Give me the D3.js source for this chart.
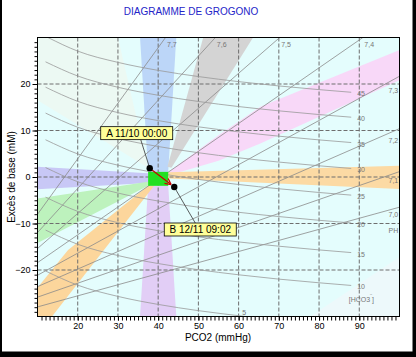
<!DOCTYPE html>
<html><head><meta charset="utf-8">
<script src="https://cdn.jsdelivr.net/npm/d3@7"></script>
<style>body{margin:0;background:#fff} svg{display:block} text{font-family:"Liberation Sans",Arial,sans-serif}</style>
</head><body><svg id="c" width="416" height="357"></svg>
<script>
const title = "DIAGRAMME DE GROGONO";
const xLabel = "PCO2 (mmHg)";
const yLabel = "Excès de base (mM)";
const xTicks = [20,30,40,50,60,70,80,90];
const yTicks = [-20,-10,0,10,20];

// iso-pH lines (straight): endpoints [pco2, be]
const phLabels = ["7,7","7,6","7,5","7,4","7,3","7,2","7,1","7,0"];
const phLines = [
  [[10,-8.02],[41.83,30]],
  [[10,-11.95],[54.22,30]],
  [[10,-15.38],[70.22,30]],
  [[10,-18.42],[90.89,30]],
  [[10,-21.13],[100,21.67]],
  [[10,-23.58],[100,10.41]],
  [[10,-25.84],[100,1.16]],
  [[10,-27.94],[100,-6.49]]
];
// iso-bicarbonate curves [pco2, be]
const hco3Labels = ["5","10","15","20","25","30","35","40","45"];
const hco3Lines = [
  [[12,-20.21],[20,-23.26],[30,-25.68],[40,-27.40],[50,-28.74],[61.75,-30]],
  [[12,-11.41],[20,-14.47],[30,-16.89],[40,-18.61],[50,-19.94],[60,-21.03],[70,-21.96],[80,-22.75],[88,-23.32]],
  [[12,-4.34],[20,-7.39],[30,-9.82],[40,-11.54],[50,-12.87],[60,-13.96],[70,-14.88],[80,-15.68],[88,-16.25]],
  [[12,2.03],[20,-1.02],[30,-3.45],[40,-5.17],[50,-6.50],[60,-7.59],[70,-8.51],[80,-9.31],[88,-9.88]],
  [[12,8.01],[20,4.96],[30,2.54],[40,0.82],[50,-0.52],[60,-1.61],[70,-2.53],[80,-3.33],[88,-3.90]],
  [[12,13.75],[20,10.70],[30,8.28],[40,6.56],[50,5.22],[60,4.13],[70,3.21],[80,2.41],[88,1.84]],
  [[12,19.32],[20,16.27],[30,13.85],[40,12.13],[50,10.79],[60,9.70],[70,8.78],[80,7.98],[88,7.41]],
  [[12,24.77],[20,21.72],[30,19.30],[40,17.58],[50,16.24],[60,15.15],[70,14.23],[80,13.43],[88,12.86]],
  [[12.6,30],[20,27.07],[30,24.65],[40,22.93],[50,21.60],[60,20.51],[70,19.58],[80,18.79],[88,18.22]]
];

// diagnostic zones [pco2, be]
const zoneFaintUL = [[10,16.5],[10,30],[30,30],[37.5,2]];
const zoneFaintLR = [[77.8,-30],[100,-30],[100,-17.2]];
const zoneBlueUp = [[37.5,1.1],[42.5,1.1],[44.5,30],[35.5,30]];
const zonePurpleDown = [[37.5,-1.9],[42.5,-1.9],[44.5,-30],[35.5,-30]];
const zoneGray = [[42.3,2.2],[51.2,30],[63.6,30],[43.3,2.0]];
const zonePink = [[42.5,1.1],[55,9],[65.4,15.1],[100,27.3],[100,20.8],[65.4,7.2],[55,3.5],[42.5,0.3]];
const zoneOrangeRight = [[42.5,1.0],[100,2.4],[100,-2.6],[42.5,-0.3]];
const zoneLavLeft = [[37.5,0.8],[10,2.2],[10,-2.64],[37.5,-1.3]];
const zoneGreen = [[37.5,-1.0],[10,-4.6],[10,-14.2],[37.5,-1.9]];
const zoneOrangeLL = [[37.5,-1.9],[17.6,-15.7],[10,-23.8],[10,-30],[13.6,-30],[39,-1.9]];
const normalBox = [[37.5,1.1],[42.5,-1.9]];

const samples = [
  {name:"A 11/10 00:00", pco2:37.9, be:1.9},
  {name:"B 12/11 09:02", pco2:44.0, be:-2.15}
];

const svg = d3.select("#c");
svg.append("rect").attr("width",416).attr("height",357).attr("fill","#000");
svg.append("rect").attr("x",2).attr("y",0).attr("width",410.5).attr("height",351.5).attr("fill","#fff");

const L=37.5,R=399.5,T=37.5,B=316.5;
const x = d3.scaleLinear().domain([10,100]).range([L,R]);
const y = d3.scaleLinear().domain([-30,30]).range([B,T]);

svg.append("text").attr("x",191).attr("y",15).attr("text-anchor","middle")
  .attr("font-size",10).attr("fill","#2424c8").text(title);

svg.append("defs").append("clipPath").attr("id","pc").append("rect")
  .attr("x",L).attr("y",T).attr("width",R-L).attr("height",B-T);
const g = svg.append("g").attr("clip-path","url(#pc)");
g.append("rect").attr("x",L).attr("y",T).attr("width",R-L).attr("height",B-T).attr("fill","#e4fdfd");

const poly = d3.line().x(d=>x(d[0])).y(d=>y(d[1]));
function zone(pts,col){ g.append("path").attr("d",poly(pts)+"Z").attr("fill",col); }
zone(zoneFaintUL,"#ecf9f3");
zone(zoneFaintLR,"#edf9fb");
zone(zoneBlueUp,"#bcd6f8");
zone(zonePurpleDown,"#e2cef6");
zone(zoneGray,"#d4d4d4");
zone(zonePink,"#f8d8f8");
zone(zoneOrangeRight,"#fcdaa4");
zone(zoneLavLeft,"#c8c8f6");
zone(zoneGreen,"#bdf2bd");
zone(zoneOrangeLL,"#fcd69c");

// grid
g.selectAll(".gx").data(xTicks).enter().append("line")
  .attr("x1",d=>x(d)).attr("x2",d=>x(d)).attr("y1",T).attr("y2",B)
  .attr("stroke","#6e6e6e").attr("stroke-dasharray","4,2");
g.selectAll(".gy").data(yTicks).enter().append("line")
  .attr("y1",d=>y(d)).attr("y2",d=>y(d)).attr("x1",L).attr("x2",R)
  .attr("stroke","#6e6e6e").attr("stroke-dasharray","4,2");

// isopleths
const curve = d3.line().x(d=>x(d[0])).y(d=>y(d[1])).curve(d3.curveMonotoneX);
phLines.forEach(l=>g.append("path").attr("d",poly(l)).attr("fill","none").attr("stroke","#8a8a8a").attr("stroke-width",0.8));
hco3Lines.forEach(l=>g.append("path").attr("d",curve(l)).attr("fill","none").attr("stroke","#999").attr("stroke-width",0.8));

// isopleth labels
phLines.forEach((l,i)=>{
  const a=l[0], e=l[1]; let tx,ty;
  if(e[1]>=30){tx=x(e[0])+1.5; ty=T+9.5;}
  else {
    const pl=94, bl=a[1]+(e[1]-a[1])*(pl-a[0])/(e[0]-a[0]);
    tx=R-11; ty=y(bl)+3.5;
  }
  g.append("text").attr("x",tx).attr("y",ty).attr("font-size",7).attr("fill","#777").text(phLabels[i]);
});
hco3Lines.forEach((l,i)=>{
  const e=l[l.length-1]; let tx,ty;
  if(e[1]<=-30){tx=x(e[0])-3.5; ty=B-2;} else {tx=x(e[0])+6; ty=y(e[1])+4;}
  g.append("text").attr("x",tx).attr("y",ty).attr("font-size",7).attr("fill","#777").text(hco3Labels[i]);
});
g.append("text").attr("x",R-11).attr("y",233).attr("font-size",7).attr("fill","#777").text("PH");
const ht = g.append("text").attr("x",x(87.4)).attr("y",y(-26.9)).attr("font-size",7).attr("fill","#777");
ht.append("tspan").text("[HCO3");
ht.append("tspan").attr("dy",-3).attr("font-size",5).text("‾");
ht.append("tspan").attr("dy",3).text("]");

// normal box
g.append("rect").attr("x",x(normalBox[0][0])).attr("y",y(normalBox[0][1]))
  .attr("width",x(normalBox[1][0])-x(normalBox[0][0])).attr("height",y(normalBox[1][1])-y(normalBox[0][1]))
  .attr("fill","#22e022");

// axes
const xa = svg.append("g").attr("transform",`translate(0,${B})`)
  .call(d3.axisBottom(x).tickValues(d3.range(11,100)).tickSize(4).tickFormat(""));
const xa2 = svg.append("g").attr("transform",`translate(0,${B})`)
  .call(d3.axisBottom(x).tickValues(xTicks).tickSize(4).tickPadding(2.5));
const ya = svg.append("g").attr("transform",`translate(${L},0)`)
  .call(d3.axisLeft(y).tickValues(d3.range(-29,30)).tickSize(3).tickFormat(""));
const ya2 = svg.append("g").attr("transform",`translate(${L},0)`)
  .call(d3.axisLeft(y).tickValues(yTicks).tickSize(5).tickPadding(2));
[xa,xa2,ya,ya2].forEach(a=>{a.select(".domain").remove(); a.selectAll("line").attr("stroke","#000");
  a.selectAll("text").attr("font-size",9).attr("fill","#000").attr("font-family",'"Liberation Sans",Arial,sans-serif');});
svg.append("rect").attr("x",L).attr("y",T).attr("width",R-L).attr("height",B-T)
  .attr("fill","none").attr("stroke","#000").attr("stroke-width",1);

svg.append("text").attr("x",218).attr("y",340.5).attr("text-anchor","middle").attr("font-size",10).text(xLabel);
svg.append("text").attr("transform","translate(15,177) rotate(-90)").attr("text-anchor","middle").attr("font-size",10).text(yLabel);

// arrow A -> B
const pa=[x(samples[0].pco2),y(samples[0].be)], pb=[x(samples[1].pco2),y(samples[1].be)];
const ang=Math.atan2(pb[1]-pa[1],pb[0]-pa[0]);
const tip=[pb[0]-4*Math.cos(ang),pb[1]-4*Math.sin(ang)];
svg.append("line").attr("x1",pa[0]).attr("y1",pa[1]).attr("x2",tip[0]).attr("y2",tip[1]).attr("stroke","#c80000").attr("stroke-width",1.3);
const ah=6, aw=3;
const base=[tip[0]-ah*Math.cos(ang),tip[1]-ah*Math.sin(ang)];
svg.append("path").attr("d",`M${tip[0]},${tip[1]}L${base[0]+aw*Math.sin(ang)},${base[1]-aw*Math.cos(ang)}M${tip[0]},${tip[1]}L${base[0]-aw*Math.sin(ang)},${base[1]+aw*Math.cos(ang)}`)
  .attr("stroke","#c80000").attr("stroke-width",1.3).attr("fill","none");

// sample labels
const offs=[[-13,-35],[26,42.5]];
samples.forEach((s,i)=>{
  const p=[x(s.pco2),y(s.be)];
  const cx=p[0]+offs[i][0], cy=p[1]+offs[i][1];
  const w=72,h=13;
  const ey = i==0? cy+h/2 : cy-h/2;
  const ex = i==0? cx+4 : cx-5;
  svg.append("line").attr("x1",p[0]).attr("y1",p[1]).attr("x2",ex).attr("y2",ey).attr("stroke","#333").attr("stroke-width",0.8);
  svg.append("rect").attr("x",cx-w/2).attr("y",cy-h/2).attr("width",w).attr("height",h).attr("fill","#ffff99").attr("stroke","#000").attr("stroke-width",0.8);
  svg.append("text").attr("x",cx).attr("y",cy+3.6).attr("text-anchor","middle").attr("font-size",10).text(s.name);
});
samples.forEach(s=>svg.append("circle").attr("cx",x(s.pco2)).attr("cy",y(s.be)).attr("r",3.2).attr("fill","#000"));
</script></body></html>
